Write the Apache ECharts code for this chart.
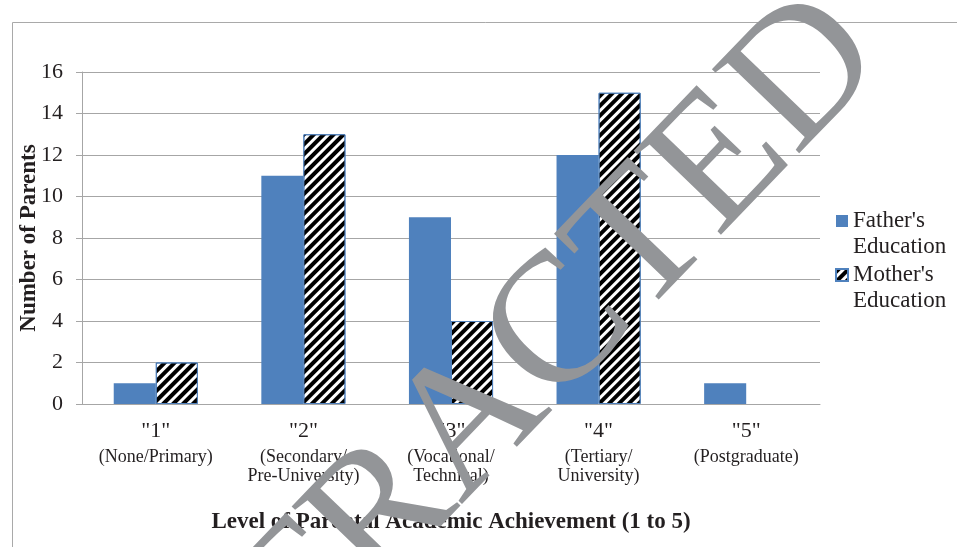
<!DOCTYPE html>
<html>
<head>
<meta charset="utf-8">
<script src="https://cdn.jsdelivr.net/npm/echarts@6/dist/echarts.min.js"></script>
<style>
  html, body { margin: 0; padding: 0; background: #ffffff; }
  #chart { width: 957px; height: 547px; }
</style>
</head>
<body>
<div id="chart"></div>
<script>
// ---- data ----
const levelCodes = ['"1"', '"2"', '"3"', '"4"', '"5"'];
const levelNames = ['(None/Primary)', '(Secondary/\nPre-University)', '(Vocational/\nTechnical)', '(Tertiary/\nUniversity)', '(Postgraduate)'];
const fatherValues = [1, 11, 9, 12, 1];
const motherValues = [2, 13, 4, 15, 0];
const seriesNames = ["Father's Education", "Mother's Education"];
const yTicks = { min: 0, max: 16, interval: 2 };
const yTitle = 'Number of Parents';
const xTitle = 'Level of Parental Academic Achievement (1 to 5)';
const watermark = 'RETRACTED';

const SERIF = '"Liberation Serif", "Times New Roman", serif';
const TXT = '#231f20';
const GRID = '#a6a6a6';
const BLUE = '#4f81bd';

const chart = echarts.init(document.getElementById('chart'), null, { renderer: 'canvas' });

const option = {
  animation: false,
  backgroundColor: '#ffffff',
  grid: { left: 82, right: 137, top: 72, bottom: 143, containLabel: false },
  legend: {
    orient: 'vertical',
    left: 835,
    top: 182,
    padding: 0,
    itemWidth: 12,
    itemHeight: 12,
    itemGap: -24,
    icon: 'rect',
    data: seriesNames,
    // leading blank line keeps the first text line level with the icon
    formatter: n => '\n' + n.replace(' ', '\n'),
    textStyle: { fontFamily: SERIF, fontSize: 23, lineHeight: 26, color: TXT }
  },
  xAxis: {
    type: 'category',
    data: levelCodes,
    axisLine: { lineStyle: { color: GRID, width: 1 } },
    axisTick: { show: false },
    axisLabel: {
      interval: 0,
      margin: 10,
      formatter: (v, i) => '{a|' + v + '}\n' + levelNames[i].split('\n').map(s => '{b|' + s + '}').join('\n'),
      rich: {
        a: { fontFamily: SERIF, fontSize: 22, lineHeight: 34, color: TXT },
        b: { fontFamily: SERIF, fontSize: 18, lineHeight: 19, color: TXT }
      }
    },
    name: xTitle,
    nameLocation: 'middle',
    nameGap: 107,
    nameMoveOverlap: false,
    nameTextStyle: { fontFamily: SERIF, fontSize: 23, fontWeight: 'bold', color: TXT }
  },
  yAxis: {
    type: 'value',
    min: yTicks.min,
    max: yTicks.max,
    interval: yTicks.interval,
    axisLine: { show: true, lineStyle: { color: GRID, width: 1 } },
    axisTick: { show: true, length: 6, lineStyle: { color: GRID, width: 1 } },
    splitLine: { show: true, lineStyle: { color: GRID, width: 1 } },
    axisLabel: { fontFamily: SERIF, fontSize: 22, color: TXT, margin: 19 },
    name: yTitle,
    nameLocation: 'middle',
    nameRotate: 90,
    nameGap: 41,
    nameMoveOverlap: false,
    nameTextStyle: { fontFamily: SERIF, fontSize: 23, fontWeight: 'bold', color: TXT }
  },
  series: [
    {
      name: seriesNames[0],
      type: 'bar',
      barGap: '0%',
      barCategoryGap: '43%',
      itemStyle: { color: BLUE },
      data: fatherValues
    },
    {
      name: seriesNames[1],
      type: 'bar',
      barGap: '0%',
      barCategoryGap: '43%',
      itemStyle: {
        color: '#ffffff',
        borderColor: BLUE,
        borderWidth: 1,
        decal: {
          symbol: 'rect',
          symbolSize: 1,
          color: '#000000',
          dashArrayX: [1, 0],
          dashArrayY: [4, 3],
          rotation: -Math.PI / 4
        }
      },
      data: motherValues.map(v => ({ value: v, itemStyle: v === 0 ? { borderWidth: 0 } : {} }))
    }
  ],
  graphic: [
    {
      type: 'rect',
      silent: true,
      z: -10,
      shape: { x: 12.5, y: 22.5, width: 980, height: 600 },
      style: { fill: 'none', stroke: '#a9a9a9', lineWidth: 1 }
    },
    {
      type: 'text',
      silent: true,
      z: 100,
      x: 853,
      y: 27,
      rotation: Math.PI / 4 + 0.02,
      style: {
        text: watermark,
        font: '185px "Liberation Serif"',
        fill: '#939598',
        align: 'right',
        verticalAlign: 'middle'
      }
    }
  ]
};

chart.setOption(option);
</script>
</body>
</html>
